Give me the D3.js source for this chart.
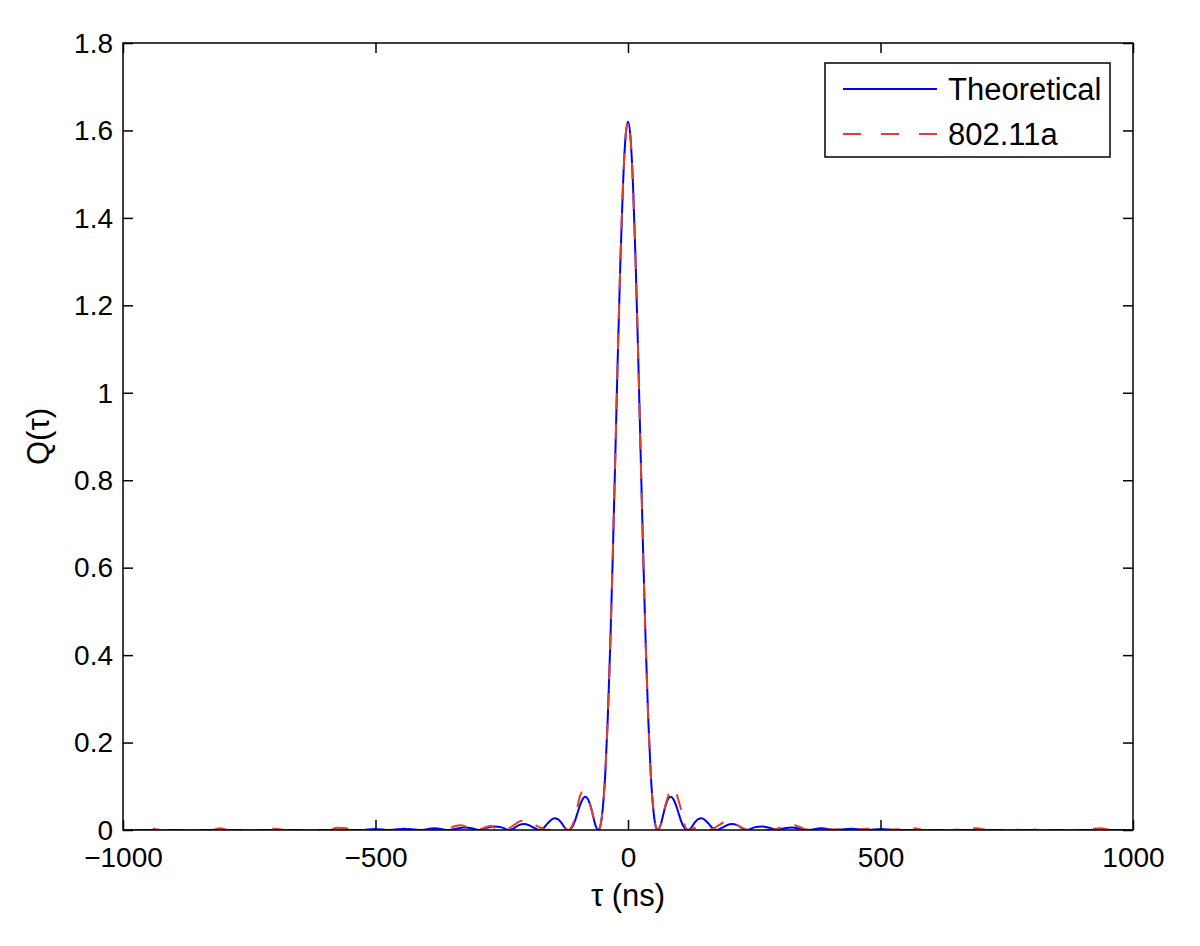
<!DOCTYPE html>
<html>
<head>
<meta charset="utf-8">
<script src="https://cdn.jsdelivr.net/npm/d3@7"></script>
<style>
  body { margin: 0; background: #fff; }
  svg { display: block; font-family: "Liberation Sans", Arial, Helvetica, sans-serif; }
</style>
</head>
<body>
<svg id="chart" width="1200" height="946"></svg>
<script>
// theoretical Q(tau)
var tauTheory = [-1000, -531, -501, -472, -442, -413, -383, -354, -340, -325, -310, -295, -280, -265, -250, -236,
  -226, -216, -206, -196, -186, -177, -167, -160, -153, -146, -139, -132, -125, -118,
  -115, -110, -105, -100, -95, -90, -85, -80, -75, -70, -65, -59,
  -55, -50, -45, -40, -35, -30, -25, -20, -15, -10, -5, 0,
  5, 10, 15, 20, 25, 30, 35, 40, 45, 50, 55, 59,
  65, 70, 75, 80, 85, 90, 95, 100, 105, 110, 115, 118,
  125, 132, 139, 146, 153, 160, 167, 177, 186, 196, 206, 216, 226, 236,
  250, 265, 280, 295, 310, 325, 340, 354, 383, 413, 442, 472, 501, 531, 1000];
var qTheory = [0, 0, 0.0023, 0, 0.003, 0, 0.004, 0, 0.003, 0.0055, 0.004, 0, 0.005, 0.008, 0.006, 0,
  0.004, 0.011, 0.0135, 0.011, 0.005, 0, 0.005, 0.014, 0.022, 0.027, 0.025, 0.017, 0.005, 0,
  0.001, 0.008, 0.021, 0.039, 0.057, 0.070, 0.076, 0.072, 0.058, 0.036, 0.013, 0,
  0.008, 0.049, 0.129, 0.257, 0.428, 0.634, 0.862, 1.094, 1.303, 1.472, 1.583, 1.620,
  1.583, 1.472, 1.303, 1.094, 0.862, 0.634, 0.428, 0.257, 0.129, 0.049, 0.008, 0,
  0.013, 0.036, 0.058, 0.072, 0.076, 0.070, 0.057, 0.039, 0.021, 0.008, 0.001, 0,
  0.005, 0.017, 0.025, 0.027, 0.022, 0.014, 0.005, 0, 0.005, 0.011, 0.0135, 0.011, 0.004, 0,
  0.006, 0.008, 0.005, 0, 0.004, 0.0055, 0.003, 0, 0.004, 0, 0.003, 0, 0.0023, 0, 0];

// 802.11a Q(tau)
var tauWlan = [-1000, -965, -945, -925, -825, -808, -790, -720, -700, -680, -595, -575, -558, -540, -445, -425, -400,
  -360, -345, -330, -315, -297, -285, -272, -262, -250,
  -240, -230, -220, -210, -200, -190, -180, -170, -160, -150, -140, -132, -125, -118,
  -112, -106, -101, -95, -90, -85, -80, -75, -70, -65, -59,
  -55, -50, -45, -40, -35, -30, -25, -20, -15, -10, -5, 0,
  5, 10, 15, 20, 25, 30, 35, 40, 45, 50, 55, 59,
  65, 70, 75, 80, 85, 90, 95, 100, 105, 108, 112, 116, 120,
  130, 140, 150, 160, 170, 180, 190, 200, 210, 220, 230, 240,
  260, 280, 295, 310, 325, 340, 355, 380, 420, 450, 472, 500, 540, 565, 590,
  640, 665, 690, 715, 760, 790, 815, 880, 915, 935, 960, 1000];
var qWlan = [0, 0, 0.003, 0, 0, 0.004, 0, 0, 0.003, 0, 0, 0.005, 0.004, 0, 0, 0.003, 0,
  0, 0.008, 0.011, 0.005, 0, 0.005, 0.009, 0.004, 0,
  0.002, 0.008, 0.016, 0.021, 0.020, 0.016, 0.009, 0.004, 0, 0.002, 0.005, 0.006, 0.003, 0,
  0.007, 0.024, 0.048, 0.078, 0.087, 0.083, 0.073, 0.058, 0.037, 0.014, 0,
  0.008, 0.049, 0.129, 0.257, 0.428, 0.634, 0.862, 1.094, 1.303, 1.472, 1.583, 1.620,
  1.583, 1.472, 1.303, 1.094, 0.862, 0.634, 0.428, 0.257, 0.129, 0.049, 0.008, 0,
  0.013, 0.036, 0.060, 0.080, 0.092, 0.094, 0.086, 0.068, 0.048, 0.037, 0.012, 0.002, 0,
  0.004, 0.005, 0.002, 0, 0.004, 0.011, 0.018, 0.021, 0.017, 0.009, 0.003, 0,
  0.002, 0, 0.003, 0.009, 0.012, 0.007, 0.001, 0, 0.002, 0, 0.003, 0, 0.002, 0.004, 0,
  0, 0.002, 0.004, 0, 0, 0.002, 0, 0, 0.002, 0.004, 0, 0];

var xTicks = [-1000, -500, 0, 500, 1000];
var xTickLabels = ["\u22121000", "\u2212500", "0", "500", "1000"];
var yTicks = [0, 0.2, 0.4, 0.6, 0.8, 1, 1.2, 1.4, 1.6, 1.8];
var yTickLabels = ["0", "0.2", "0.4", "0.6", "0.8", "1", "1.2", "1.4", "1.6", "1.8"];
var seriesNames = ["Theoretical", "802.11a"];
var seriesColors = ["#0000ff", "#e0402a"];

var svg = d3.select("#chart");
var padL = 123, padR = 1133, padT = 43, padB = 830;

var x = d3.scaleLinear().domain([-1000, 1000]).range([padL, padR]);
var y = d3.scaleLinear().domain([0, 1.8]).range([padB, padT]);

svg.append("clipPath").attr("id", "plotclip")
  .append("rect").attr("x", padL).attr("y", padT - 2).attr("width", padR - padL).attr("height", padB - padT + 2);

var line = d3.line()
  .x(function(d) { return x(d[0]); })
  .y(function(d) { return y(d[1]); })
  .curve(d3.curveMonotoneX);

var theory = d3.zip(tauTheory, qTheory);
var wlan = d3.zip(tauWlan, qWlan);

var plot = svg.append("g").attr("clip-path", "url(#plotclip)");
plot.append("path").datum(theory)
  .attr("d", line).attr("fill", "none")
  .attr("stroke", seriesColors[0]).attr("stroke-width", 2);
plot.append("path").datum(wlan)
  .attr("d", line).attr("fill", "none")
  .attr("stroke", seriesColors[1]).attr("stroke-width", 2)
  .attr("stroke-dasharray", "16,14");

// axes, ticks inward on all four sides
var tick = 10;
function styleAxis(g) {
  g.select(".domain").remove();
  g.selectAll("line").attr("stroke", "#000").attr("stroke-width", 1.5);
  g.selectAll("text").attr("font-size", 28).attr("fill", "#000");
  g.attr("font-family", null);
}
svg.append("g").attr("transform", "translate(0," + padB + ")")
  .call(d3.axisBottom(x).tickValues(xTicks).tickSize(-tick).tickFormat(function(d, i) { return xTickLabels[i]; }))
  .call(styleAxis)
  .call(function(g) { g.selectAll("text").attr("y", 37).attr("dy", 0); });
svg.append("g").attr("transform", "translate(0," + padT + ")")
  .call(d3.axisTop(x).tickValues(xTicks).tickSize(-tick).tickFormat(""))
  .call(styleAxis);
svg.append("g").attr("transform", "translate(" + padL + ",0)")
  .call(d3.axisLeft(y).tickValues(yTicks).tickSize(-tick).tickFormat(function(d, i) { return yTickLabels[i]; }))
  .call(styleAxis)
  .call(function(g) { g.selectAll("text").attr("x", -10).attr("dy", "0.33em"); });
svg.append("g").attr("transform", "translate(" + padR + ",0)")
  .call(d3.axisRight(y).tickValues(yTicks).tickSize(-tick).tickFormat(""))
  .call(styleAxis);

svg.append("rect")
  .attr("x", padL).attr("y", padT).attr("width", padR - padL).attr("height", padB - padT)
  .attr("fill", "none").attr("stroke", "#000").attr("stroke-width", 1.5);

// axis labels
svg.append("text")
  .attr("x", (padL + padR) / 2).attr("y", 906)
  .attr("text-anchor", "middle").attr("font-size", 31)
  .text("\u03c4 (ns)");
svg.append("text")
  .attr("transform", "translate(49," + ((padT + padB) / 2) + ") rotate(-90)")
  .attr("text-anchor", "middle").attr("font-size", 31)
  .text("Q(\u03c4)");

// legend
var legend = svg.append("g");
legend.append("rect")
  .attr("x", 825).attr("y", 63).attr("width", 285).attr("height", 94)
  .attr("fill", "#fff").attr("stroke", "#000").attr("stroke-width", 1.5);
seriesNames.forEach(function(name, i) {
  var ly = 89 + i * 45;
  legend.append("line")
    .attr("x1", 843).attr("x2", 937).attr("y1", ly).attr("y2", ly)
    .attr("stroke", seriesColors[i]).attr("stroke-width", 2)
    .attr("stroke-dasharray", i === 1 ? "18,20" : null);
  legend.append("text")
    .attr("x", 948).attr("y", ly).attr("dy", "0.36em")
    .attr("font-size", 31)
    .text(name);
});
</script>
</body>
</html>
